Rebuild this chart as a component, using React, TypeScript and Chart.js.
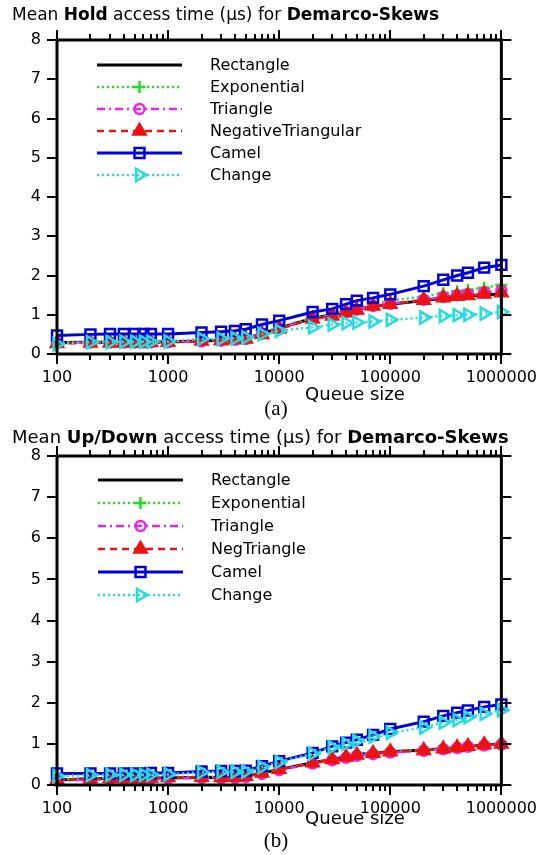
import React, { useEffect, useRef } from 'react';
import { Chart, registerables } from 'chart.js';
import { drawPoint } from 'chart.js/helpers';

Chart.register(...registerables);

// ---------- data ----------
const queueSizes = [100, 200, 300, 400, 500, 600, 700, 1000, 2000, 3000, 4000, 5000, 7000, 10000, 20000, 30000, 40000, 50000, 70000, 100000, 200000, 300000, 400000, 500000, 700000, 1000000];

const holdNames = ['Rectangle', 'Exponential', 'Triangle', 'NegativeTriangular', 'Camel', 'Change'];
const updownNames = ['Rectangle', 'Exponential', 'Triangle', 'NegTriangle', 'Camel', 'Change'];

const holdRectangle = [0.29, 0.30, 0.30, 0.30, 0.30, 0.30, 0.30, 0.31, 0.33, 0.35, 0.37, 0.39, 0.52, 0.66, 0.91, 1.00, 1.07, 1.13, 1.21, 1.27, 1.36, 1.42, 1.45, 1.48, 1.51, 1.53];
const holdExponential = [0.30, 0.31, 0.31, 0.31, 0.31, 0.31, 0.32, 0.32, 0.34, 0.36, 0.38, 0.40, 0.54, 0.68, 0.93, 1.02, 1.10, 1.17, 1.27, 1.36, 1.46, 1.55, 1.60, 1.63, 1.69, 1.76];
const holdTriangle = [0.28, 0.29, 0.29, 0.29, 0.29, 0.29, 0.30, 0.30, 0.32, 0.34, 0.36, 0.38, 0.52, 0.66, 0.90, 0.99, 1.07, 1.13, 1.22, 1.28, 1.38, 1.45, 1.50, 1.53, 1.57, 1.62];
const holdNegTriangle = [0.27, 0.28, 0.28, 0.28, 0.28, 0.28, 0.29, 0.30, 0.33, 0.34, 0.36, 0.38, 0.50, 0.64, 0.89, 0.97, 1.05, 1.12, 1.22, 1.27, 1.37, 1.43, 1.47, 1.49, 1.53, 1.56];
const holdCamel = [0.47, 0.50, 0.51, 0.51, 0.51, 0.51, 0.51, 0.51, 0.55, 0.57, 0.59, 0.63, 0.75, 0.85, 1.07, 1.15, 1.27, 1.36, 1.43, 1.52, 1.73, 1.89, 2.00, 2.07, 2.20, 2.27];
const holdChange = [0.25, 0.30, 0.30, 0.31, 0.31, 0.31, 0.31, 0.32, 0.39, 0.39, 0.40, 0.42, 0.51, 0.59, 0.68, 0.75, 0.79, 0.80, 0.83, 0.87, 0.93, 0.97, 0.99, 1.00, 1.03, 1.07];

const udRectangle = [0.12, 0.15, 0.16, 0.16, 0.16, 0.16, 0.17, 0.17, 0.19, 0.18, 0.19, 0.21, 0.29, 0.38, 0.54, 0.62, 0.69, 0.74, 0.78, 0.81, 0.85, 0.88, 0.91, 0.94, 0.97, 1.00];
const udExponential = [0.13, 0.16, 0.17, 0.17, 0.17, 0.17, 0.18, 0.19, 0.20, 0.19, 0.20, 0.22, 0.30, 0.39, 0.55, 0.63, 0.70, 0.75, 0.79, 0.82, 0.86, 0.90, 0.93, 0.96, 0.99, 1.02];
const udTriangle = [0.10, 0.13, 0.14, 0.14, 0.14, 0.14, 0.15, 0.16, 0.17, 0.16, 0.17, 0.19, 0.27, 0.36, 0.52, 0.60, 0.66, 0.71, 0.75, 0.79, 0.83, 0.87, 0.90, 0.93, 0.96, 0.98];
const udNegTriangle = [0.12, 0.15, 0.16, 0.16, 0.16, 0.16, 0.17, 0.18, 0.19, 0.18, 0.19, 0.21, 0.29, 0.38, 0.54, 0.62, 0.68, 0.73, 0.77, 0.81, 0.84, 0.88, 0.91, 0.94, 0.98, 1.00];
const udCamel = [0.28, 0.28, 0.28, 0.28, 0.28, 0.28, 0.29, 0.29, 0.33, 0.34, 0.34, 0.35, 0.46, 0.58, 0.78, 0.94, 1.03, 1.10, 1.22, 1.36, 1.54, 1.68, 1.76, 1.81, 1.90, 1.96];
const udChange = [0.22, 0.24, 0.25, 0.25, 0.25, 0.25, 0.25, 0.26, 0.31, 0.32, 0.32, 0.33, 0.44, 0.56, 0.76, 0.92, 1.00, 1.07, 1.18, 1.27, 1.40, 1.52, 1.58, 1.65, 1.73, 1.82];

const yTickValues = [0, 1, 2, 3, 4, 5, 6, 7, 8];
const xTickLabels = [100, 1000, 10000, 100000, 1000000];
const xMinorMultipliers = [2, 3, 4, 5, 6, 7, 8, 9];

// ---------- styles ----------
const FONT = '"DejaVu Sans", "Liberation Sans", Arial, sans-serif';

const seriesStyles: any[] = [
  { color: '#000000', dash: [], pointStyle: false, radius: 0, width: 3, fill: false, rotation: 0, order: 5 },
  { color: '#1ee01e', dash: [2, 3], pointStyle: 'cross', radius: 6, width: 2.5, fill: false, rotation: 0, order: 4 },
  { color: '#ee22ee', dash: [8, 4, 2, 4], pointStyle: 'circle', radius: 5, width: 2.5, fill: false, rotation: 0, order: 3 },
  { color: '#ee1111', dash: [7, 5], pointStyle: 'triangle', radius: 7, width: 2.5, fill: true, rotation: 0, order: 2 },
  { color: '#0000dd', dash: [], pointStyle: 'rect', radius: 7, width: 3, fill: false, rotation: 0, order: 1 },
  { color: '#22dddd', dash: [2, 3], pointStyle: 'triangle', radius: 7, width: 2.5, fill: false, rotation: 90, order: 0 },
];

function makeDatasets(names: string[], series: number[][]) {
  return names.map((name, i) => {
    const s = seriesStyles[i];
    return {
      label: name,
      data: queueSizes.map((x, j) => ({ x, y: series[i][j] })),
      borderColor: s.color,
      backgroundColor: s.fill ? s.color : 'rgba(0,0,0,0)',
      borderWidth: s.width,
      borderDash: s.dash,
      pointStyle: s.pointStyle,
      pointRadius: s.radius,
      pointBorderWidth: 2.5,
      pointBorderColor: s.color,
      pointBackgroundColor: s.fill ? s.color : 'rgba(0,0,0,0)',
      pointRotation: s.rotation,
      tension: 0,
      clip: false,
      order: s.order,
    };
  });
}

// frame + outward ticks on all four sides
const framePlugin = {
  id: 'frame',
  afterDatasetsDraw(chart: any) {
    const { ctx, chartArea: a, scales } = chart;
    const xs = scales.x;
    const ys = scales.y;
    ctx.save();
    ctx.setLineDash([]);
    ctx.strokeStyle = '#000';
    ctx.lineWidth = 2;
    const xVals: { v: number; major: boolean }[] = [];
    xTickLabels.forEach((d, i) => {
      xVals.push({ v: d, major: true });
      if (i < xTickLabels.length - 1) xMinorMultipliers.forEach((m) => xVals.push({ v: d * m, major: false }));
    });
    ctx.beginPath();
    xVals.forEach(({ v, major }) => {
      const px = Math.round(xs.getPixelForValue(v));
      const len = major ? 10 : 6;
      ctx.moveTo(px, a.bottom);
      ctx.lineTo(px, a.bottom + len);
      ctx.moveTo(px, a.top);
      ctx.lineTo(px, a.top - len);
    });
    yTickValues.forEach((v) => {
      const py = Math.round(ys.getPixelForValue(v));
      ctx.moveTo(a.left, py);
      ctx.lineTo(a.left - 10, py);
      ctx.moveTo(a.right, py);
      ctx.lineTo(a.right + 10, py);
    });
    ctx.stroke();
    ctx.lineWidth = 3;
    ctx.strokeRect(a.left, a.top, a.right - a.left, a.bottom - a.top);
    ctx.restore();
  },
};

// legend drawn inside the plot
const insideLegendPlugin = {
  id: 'insideLegend',
  afterDraw(chart: any, _args: any, opts: any) {
    const { ctx } = chart;
    ctx.save();
    chart.data.datasets.forEach((ds: any, i: number) => {
      const y = opts.y0 + i * opts.dy;
      ctx.setLineDash(ds.borderDash || []);
      ctx.strokeStyle = ds.borderColor;
      ctx.lineWidth = ds.borderWidth;
      ctx.beginPath();
      ctx.moveTo(opts.x0, y);
      ctx.lineTo(opts.x1, y);
      ctx.stroke();
      ctx.setLineDash([]);
      if (ds.pointStyle) {
        ctx.strokeStyle = ds.pointBorderColor;
        ctx.fillStyle = ds.pointBackgroundColor;
        ctx.lineWidth = ds.pointBorderWidth;
        drawPoint(ctx, { pointStyle: ds.pointStyle, rotation: ds.pointRotation, radius: ds.pointRadius, borderWidth: ds.pointBorderWidth }, (opts.x0 + opts.x1) / 2, y);
      }
      ctx.fillStyle = '#000';
      ctx.font = `16px ${FONT}`;
      ctx.textBaseline = 'middle';
      ctx.textAlign = 'left';
      ctx.fillText(ds.label, opts.textX, y + 1);
    });
    ctx.restore();
  },
};

function PlotCanvas(props: { names: string[]; series: number[][]; right: number; bottom: number; legend: any; top: number }) {
  const ref = useRef<HTMLCanvasElement>(null);
  useEffect(() => {
    if (!ref.current) return;
    const chart = new Chart(ref.current, {
      type: 'line',
      data: { datasets: makeDatasets(props.names, props.series) as any },
      plugins: [framePlugin, insideLegendPlugin],
      options: {
        animation: false,
        responsive: false,
        maintainAspectRatio: false,
        layout: { padding: { top: 40, right: props.right, bottom: props.bottom, left: 0 } },
        plugins: {
          legend: { display: false },
          tooltip: { enabled: false },
          title: { display: false },
          insideLegend: props.legend,
        } as any,
        scales: {
          x: {
            type: 'logarithmic',
            min: 100,
            max: 1000000,
            grid: { display: false, drawTicks: false },
            border: { display: false },
            afterBuildTicks: (s: any) => {
              s.ticks = xTickLabels.map((v) => ({ value: v }));
            },
            afterFit: (s: any) => {
              s.height = 30;
            },
            ticks: {
              callback: (v: any) => String(v),
              color: '#000',
              font: { family: FONT, size: 16 },
              padding: 14,
              maxRotation: 0,
              autoSkip: false,
            },
          },
          y: {
            type: 'linear',
            min: 0,
            max: 8,
            grid: { display: false, drawTicks: false },
            border: { display: false },
            afterBuildTicks: (s: any) => {
              s.ticks = yTickValues.map((v) => ({ value: v }));
            },
            afterFit: (s: any) => {
              s.width = 57;
            },
            ticks: {
              color: '#000',
              font: { family: FONT, size: 16 },
              padding: 16,
            },
          },
        },
      } as any,
    });
    return () => chart.destroy();
  }, []);
  return (
    <canvas
      ref={ref}
      width={551}
      height={400}
      style={{ position: 'absolute', left: 0, top: props.top, width: 551, height: 400 }}
    />
  );
}

const titleStyle: React.CSSProperties = {
  position: 'absolute',
  left: 12,
  fontFamily: FONT,
  lineHeight: '20px',
  whiteSpace: 'nowrap',
  color: '#000',
};
const axisTitleStyle: React.CSSProperties = {
  position: 'absolute',
  left: 255,
  width: 200,
  textAlign: 'center',
  fontFamily: FONT,
  fontSize: 18,
  lineHeight: '20px',
  color: '#000',
};
const captionStyle: React.CSSProperties = {
  position: 'absolute',
  left: 226,
  width: 100,
  textAlign: 'center',
  fontFamily: '"Liberation Serif", "Times New Roman", serif',
  fontSize: 21,
  lineHeight: '24px',
  color: '#000',
};

export default function App() {
  useEffect(() => {
    document.body.style.margin = '0';
  }, []);
  return (
    <div style={{ position: 'relative', width: 551, height: 855, background: '#fff', overflow: 'hidden' }}>
      <PlotCanvas
        names={holdNames}
        series={[holdRectangle, holdExponential, holdTriangle, holdNegTriangle, holdCamel, holdChange]}
        right={42}
        bottom={16}
        top={0}
        legend={{ x0: 97, x1: 182, textX: 210, y0: 65, dy: 22 }}
      />
      <PlotCanvas
        names={updownNames}
        series={[udRectangle, udExponential, udTriangle, udNegTriangle, udCamel, udChange]}
        right={37}
        bottom={1}
        top={416}
        legend={{ x0: 98, x1: 183, textX: 211, y0: 64, dy: 23 }}
      />
      <div style={{ ...titleStyle, top: 4, fontSize: 17 }}>
        Mean <b>Hold</b> access time (μs) for <b>Demarco-Skews</b>
      </div>
      <div style={{ ...axisTitleStyle, top: 384 }}>Queue size</div>
      <div style={{ ...captionStyle, top: 396 }}>(a)</div>
      <div style={{ ...titleStyle, top: 427, fontSize: 18 }}>
        Mean <b>Up/Down</b> access time (μs) for <b>Demarco-Skews</b>
      </div>
      <div style={{ ...axisTitleStyle, top: 808 }}>Queue size</div>
      <div style={{ ...captionStyle, top: 828 }}>(b)</div>
    </div>
  );
}
